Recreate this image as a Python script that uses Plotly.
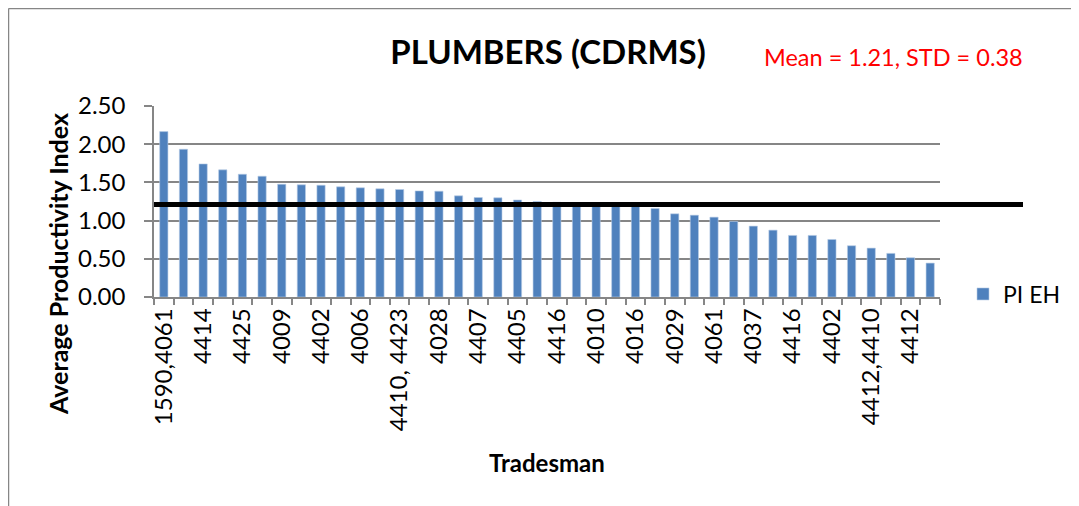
import plotly.graph_objects as go

# ---- data ----
pi_eh = [2.165, 1.934, 1.742, 1.664, 1.607, 1.581, 1.476, 1.468, 1.463, 1.442,
         1.429, 1.416, 1.407, 1.389, 1.385, 1.324, 1.302, 1.298, 1.270, 1.250,
         1.240, 1.230, 1.220, 1.210, 1.200, 1.159, 1.089, 1.071, 1.045, 0.989,
         0.928, 0.875, 0.806, 0.806, 0.753, 0.671, 0.640, 0.571, 0.514, 0.444]
# labels shown on the axis (every second tradesman)
shown_labels = ["1590,4061", "4414", "4425", "4009", "4402", "4006", "4410, 4423",
                "4028", "4407", "4405", "4416", "4010", "4016", "4029", "4061",
                "4037", "4416", "4402", "4412,4410", "4412"]
mean_value = 1.21
std_value = 0.38
y_ticks = [0.0, 0.5, 1.0, 1.5, 2.0, 2.5]

FONT = "Lato"
positions = list(range(1, len(pi_eh) + 1))
label_positions = positions[0::2]

fig = go.Figure()
fig.add_trace(go.Bar(
    x=positions, y=pi_eh, name="PI EH",
    marker=dict(color="#4F81BD", line=dict(color="#B9CDE5", width=0.6)),
))

# page has an 8px body margin; figure pixel = page pixel - 8
OFF = 8
W, H = 1079 - OFF, 506 - OFF
L, T = 154 - OFF, 106 - OFF
R = W - (940 - OFF)
B = H - (297 - OFF)
pw, ph = W - L - R, H - T - B


def px_x(x):
    return (x - OFF - L) / pw


def px_y(y):
    return 1 - (y - OFF - T) / ph


fig.update_layout(
    width=W, height=H,
    margin=dict(l=L, r=R, t=T, b=B),
    paper_bgcolor="white", plot_bgcolor="white",
    font=dict(family=FONT, color="black"),
    bargap=0.58,
    showlegend=True,
    legend=dict(x=px_x(963), y=px_y(294), xanchor="left", yanchor="middle",
                font=dict(size=23, family=FONT), bgcolor="rgba(0,0,0,0)",
                itemwidth=30),
    title=dict(text="<b>PLUMBERS (CDRMS)</b>", x=(548 - OFF) / W, y=1 - (52 - OFF) / H,
               xanchor="center", yanchor="middle", xref="container", yref="container",
               font=dict(size=33, family=FONT, color="black")),
    xaxis=dict(
        range=[0.5, len(pi_eh) + 0.5],
        tickmode="array", tickvals=label_positions, ticktext=shown_labels,
        tickangle=-90, ticks="", showgrid=False, zeroline=False,
        showline=True, linecolor="#868686", linewidth=1.5,
        tickfont=dict(size=24, family=FONT),
        minor=dict(ticks="outside", tick0=0.5, dtick=1, ticklen=6,
                   tickcolor="#868686", tickwidth=1.5, showgrid=False),
    ),
    yaxis=dict(
        range=[0, 2.5], tickmode="array", tickvals=y_ticks,
        ticktext=[f"{v:.2f}" for v in y_ticks],
        ticks="outside", ticklen=8, tickcolor="#868686", tickwidth=1.5,
        showgrid=True, gridcolor="#868686", gridwidth=1.5, zeroline=False,
        showline=True, linecolor="#868686", linewidth=1.5,
        tickfont=dict(size=24, family=FONT), ticklabelstandoff=14,
    ),
)

# mean line extending beyond plot area
fig.add_shape(type="line", xref="paper", yref="y",
              x0=0, x1=px_x(1023), y0=mean_value, y1=mean_value,
              line=dict(color="black", width=5))

# outer border (top and left visible)
fig.add_shape(type="line", xref="paper", yref="paper",
              x0=px_x(8.5), x1=px_x(1090), y0=px_y(8.5), y1=px_y(8.5),
              line=dict(color="#868686", width=1.5))
fig.add_shape(type="line", xref="paper", yref="paper",
              x0=px_x(8.5), x1=px_x(8.5), y0=px_y(8.5), y1=px_y(520),
              line=dict(color="#868686", width=1.5))

fig.add_annotation(text=f"Mean = {mean_value:.2f}, STD = {std_value:.2f}",
                   xref="paper", yref="paper", x=px_x(893), y=px_y(57),
                   xanchor="center", yanchor="middle", showarrow=False,
                   font=dict(size=23.5, color="#FF0000", family=FONT))
fig.add_annotation(text="<b>Tradesman</b>", xref="paper", yref="paper",
                   x=px_x(547), y=px_y(462), xanchor="center", yanchor="middle",
                   showarrow=False, font=dict(size=24, family=FONT))
fig.add_annotation(text="<b>Average Productivity Index</b>", xref="paper", yref="paper",
                   x=px_x(58), y=px_y(264), xanchor="center", yanchor="middle",
                   textangle=-90, showarrow=False, font=dict(size=25, family=FONT))

fig.write_html("out.html")
